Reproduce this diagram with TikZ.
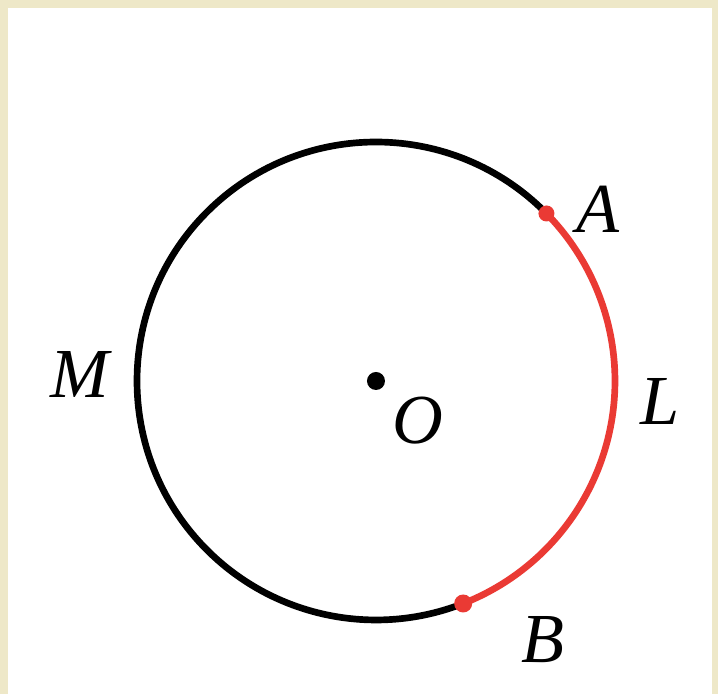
\documentclass[tikz,border=0pt]{standalone}
\usepackage{fontspec}
\setmainfont{Liberation Serif}
\usetikzlibrary{positioning}
\definecolor{arcred}{RGB}{234,58,52}
\definecolor{scanframe}{RGB}{238,232,200}

\begin{document}
\begin{tikzpicture}[font=\fontsize{20}{24}\selectfont\itshape, x=1cm, y=1cm]
    \def\r{2.39} % circle radius

    % Frame
    \fill[scanframe] (-3.76, -3.13) rectangle (3.42, 3.81);
    \fill[white] (-3.68, -3.13) rectangle (3.36, 3.73);
    \useasboundingbox (-3.76, -3.13) rectangle (3.42, 3.81);

    % Points
    \coordinate (O) at (0, 0);
    \coordinate (A) at (44.5:\r);
    \coordinate (B) at (-68.6:\r);

    % Arcs
    \draw[line width=1.9pt] (A) arc[start angle=44.5, end angle=291.4, radius=\r];
    \draw[arcred, line width=1.9pt] (B) arc[start angle=-68.6, end angle=44.5, radius=\r];

    % Dots
    \fill (O) circle (0.09);
    \fill[arcred] (A) circle (0.08);
    \fill[arcred] (B) circle (0.09);

    % Labels
    \node (lblA) at (2.22, 1.72) {A};
    \node (lblB) at (1.67, -2.59) {B};
    \node (lblL) at (2.84, -0.21) {L};
    \node (lblM) at (-2.96, 0.06) {M};
    \node (lblO) at (0.42, -0.40) {O};

  \end{tikzpicture}
\end{document}
